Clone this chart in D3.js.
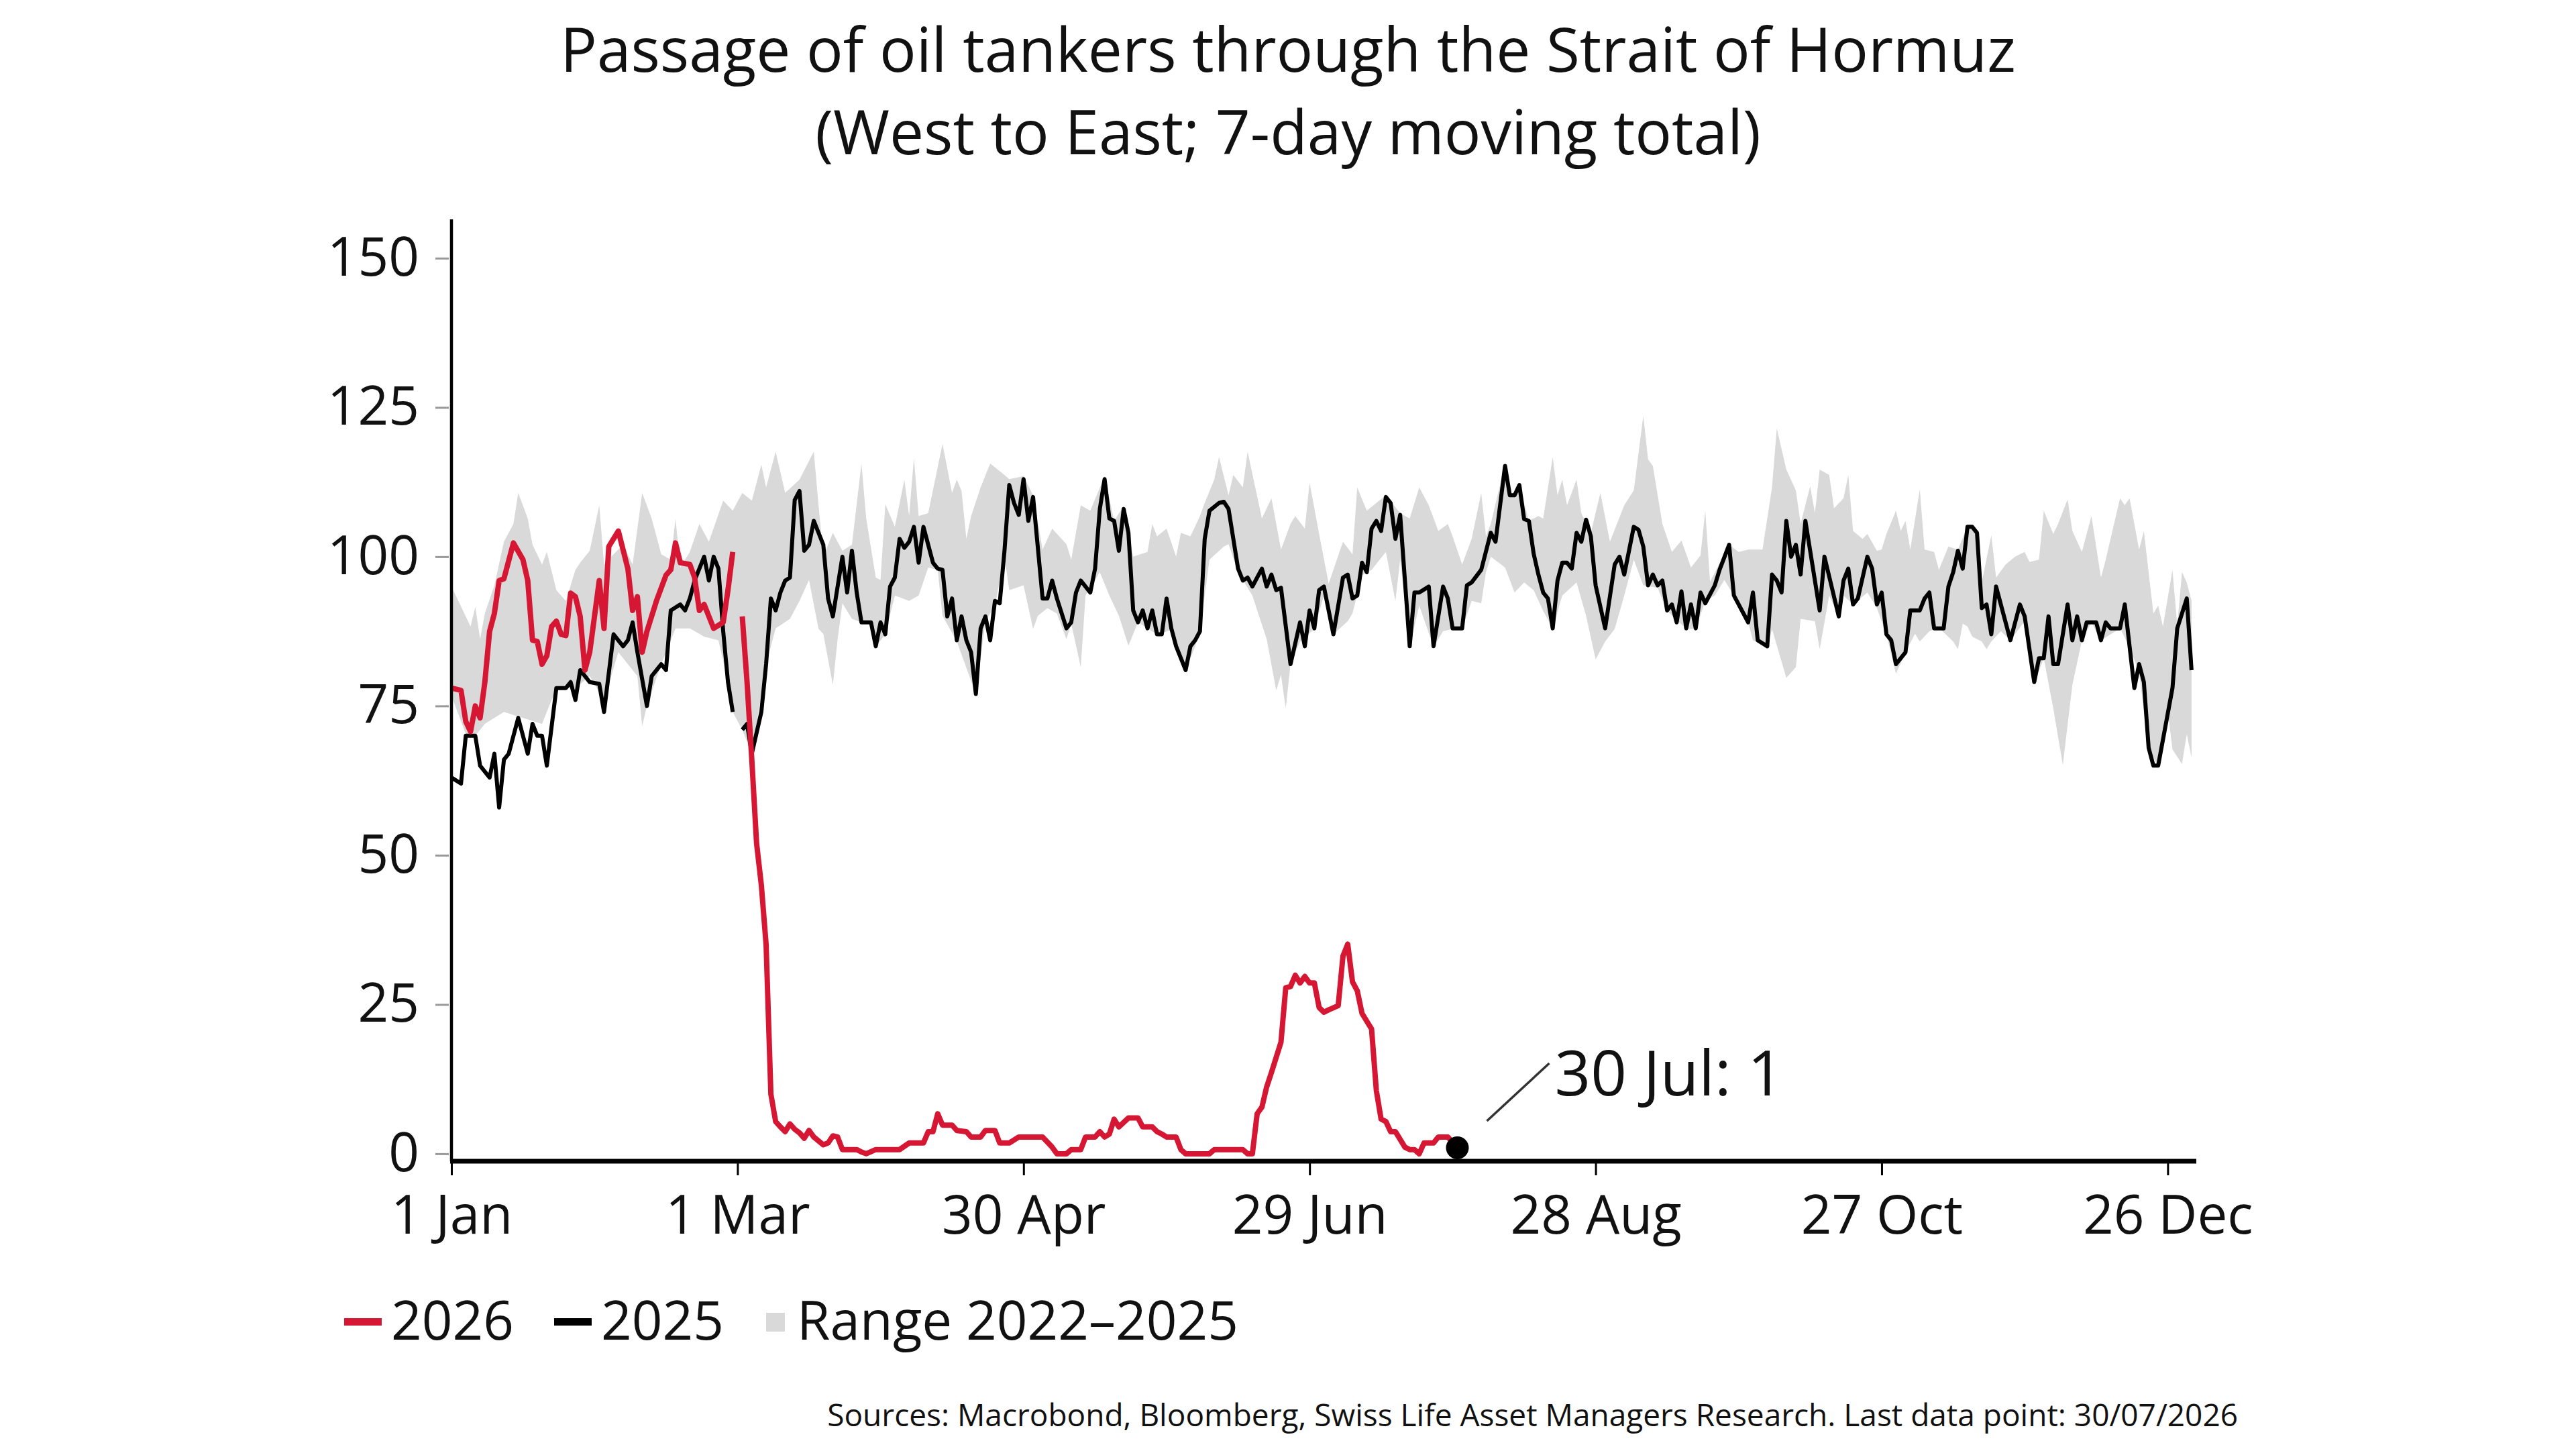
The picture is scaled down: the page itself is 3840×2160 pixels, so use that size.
<!DOCTYPE html>
<html lang="en">
<head>
<meta charset="UTF-8">
<title>Passage of oil tankers through the Strait of Hormuz</title>
<script src="https://cdn.jsdelivr.net/npm/d3@7"></script>
<style>
  html, body { margin: 0; padding: 0; background: #fff; }
  svg text { font-family: "Open Sans", "Noto Sans", sans-serif; fill: #111; }
</style>
</head>
<body>
<svg id="chart" width="3840" height="2160"></svg>
<script>
// x values are day-of-year positions on a leap-year calendar
const tickDays = [0, 60, 120, 180, 240, 300, 360];
const tickLabels = ["1 Jan", "1 Mar", "30 Apr", "29 Jun", "28 Aug", "27 Oct", "26 Dec"];
const yTicks = [0, 25, 50, 75, 100, 125, 150];

const lastPoint = { day: 211, value: 1, label: "30 Jul: 1" };

const series2026 = [
  [0,78],[2,77.6],[3,72.4],[4,70.7],[5,75],[6,73],[7,79],[8,87.5],[9,90.5],[10,96],[11,96.3],[13,102.3],
  [15,99.5],[16,96],[17,86],[18,85.8],[19,82],[20,83.4],[21,88.3],[22,89.2],[23,87],[24,86.8],[25,93.9],
  [26,93.3],[27,90],[28,81],[29,84],[31,96],[32,88],[33,101.7],[35,104.3],[37,98],[38,91],[39,93.3],
  [40,84],[41,87.5],[43,92.6],[45,96.9],[46,97.8],[47,102.3],[48,99],[50,98.7],[51,96.5],[52,91],[53,92],
  [54,90],[55,88],[57,89],[58,94.4],[59,100.8],[60,null],[61,90],[62,79],[63,66],[64,52],[65,45],[66,35],
  [67,10],[68,5.4],[69,4.5],[70,3.7],[71,5],[72,4.1],[73,3.5],[74,2.6],[75,3.9],[76,2.8],[78,1.5],
  [79,1.8],[80,3],[81,2.8],[82,0.7],[85,0.7],[86,0.3],[87,0],[89,0.7],[94,0.7],[96,1.8],[99,1.8],[100,3.7],
  [101,3.7],[102,6.7],[103,4.8],[105,4.8],[106,3.9],[108,3.7],[109,2.8],[111,2.8],[112,3.9],[114,3.9],
  [115,1.8],[117,1.8],[119,2.8],[124,2.8],[126,1.1],[127,0],[129,0],[130,0.7],[132,0.7],[133,2.8],[135,2.8],
  [136,3.7],[137,2.8],[138,3.3],[139,5.8],[140,4.5],[142,6],[144,6],[145,4.5],[147,4.5],[148,3.7],[149,3.3],
  [150,2.8],[152,2.8],[153,0.7],[154,0],[159,0],[160,0.7],[166,0.7],[167,0],[168,0],[169,6.7],[170,7.8],
  [171,11.2],[172,13.6],[174,18.7],[175,27.8],[176,28],[177,29.9],[178,28.6],[179,29.7],[180,28.6],
  [181,28.6],[182,24.5],[183,23.7],[184,24.1],[186,24.8],[187,33.1],[188,35.1],[189,28.8],[190,27.3],
  [191,23.5],[193,20.9],[194,10.6],[195,5.8],[196,5.4],[197,3.7],[198,3.7],[200,1.1],[201,0.7],[202,0.7],
  [203,0],[204,1.8],[206,1.8],[207,2.8],[209,2.8],[211,1]
];

const series2025 = [
  [0,63],[2,62],[3,70],[4,70],[5,70],[6,65],[8,63],[9,67],[10,58],[11,66],[12,67],[14,73],[16,67],[17,72],
  [18,70],[19,70],[20,65],[22,78],[24,78],[25,79],[26,76],[27,81],[29,79],[31,78.7],[32,74],[34,87],[36,85],
  [37,86],[38,89],[39,84],[41,75],[42,80],[44,82],[45,81],[46,91],[48,92],[49,91],[50,93],[51,96],[53,100],
  [54,96],[55,100],[56,98],[57,87.5],[58,79],[59,74],[60,null],[61,71],[62,72],[63,67],[65,74],[66,82],
  [67,93],[68,91],[69,94],[70,96],[71,96.5],[72,109.5],[73,111],[74,101],[75,102],[76,106],[77,104],
  [78,102],[79,93],[80,90],[82,100],[83,94],[84,101],[85,94],[86,89],[88,89],[89,85],[90,89],[91,87],
  [92,95],[93,96.5],[94,103],[95,101.5],[96,102.5],[97,105],[98,99],[99,105],[101,99],[102,98],[103,97.8],
  [104,90],[105,93],[106,86],[107,90],[108,86],[109,84],[110,77],[111,88],[112,90],[113,86],[114,92.6],
  [115,92.2],[116,101],[117,112],[118,109],[119,107],[120,113],[121,106],[122,110],[124,93],[125,93],
  [126,96],[127,93],[129,88],[130,89],[131,94],[132,96],[134,94],[135,98],[136,108],[137,113],[138,106.4],
  [139,106],[140,101],[141,108],[142,104],[143,91],[144,89],[145,91],[146,88],[147,91],[148,87],[149,87],
  [150,93],[151,88],[152,85],[153,83],[154,81],[155,85],[156,86],[157,87.5],[158,103],[159,107.7],[161,109],
  [162,109.2],[163,108],[165,98],[166,96],[167,96.5],[168,95],[170,98],[171,95],[172,97],[173,94.4],
  [174,94.8],[176,82],[178,89],[179,85],[180,91],[181,88],[182,94.4],[183,95],[185,87],[187,96.5],[188,97],
  [189,93],[190,93.5],[191,99],[192,97.4],[193,104.7],[194,106],[195,104.3],[196,110],[197,109],[198,103],
  [199,107],[201,85],[202,94],[203,94],[205,95],[206,85],[208,95],[209,93],[210,88],[212,88],[213,95.2],
  [214,95.7],[216,97.8],[218,104],[219,102.5],[221,115.2],[222,110.3],[223,110.3],[224,112],[225,106.3],
  [226,106],[227,100.5],[228,97],[229,94],[230,93],[231,88],[232,96],[233,99],[234,99],[235,98],[236,104],
  [237,102.5],[238,106.2],[239,103.4],[240,95.2],[242,88],[244,98.7],[245,100],[246,97],[248,105],
  [249,104.5],[250,101.7],[251,95.2],[252,97],[253,95.2],[254,96],[255,91],[256,92],[257,89],[258,94.2],
  [259,88],[260,92],[261,88],[262,94],[263,92.2],[265,95.2],[266,97.8],[268,102],[269,93.5],[272,89],
  [273,94],[274,86],[276,85],[277,97],[278,96],[279,94],[280,106],[281,100],[282,102],[283,97],[284,106],
  [287,91],[288,100],[291,90],[292,96],[293,98],[294,92],[295,93],[297,100],[298,98],[299,92],[300,94],
  [301,87],[302,86],[303,82],[305,84],[306,91],[308,91],[309,93],[310,94],[311,88],[313,88],[314,95],
  [315,97.4],[316,101],[317,98],[318,105],[319,105],[320,104],[321,91.4],[322,92],[323,87],[324,95],
  [327,86],[329,92],[330,90],[332,79],[333,83],[334,83],[335,90],[336,82],[337,82],[339,92],[340,86],
  [341,90],[342,86],[343,89],[344,89],[345,89],[346,86],[347,89],[348,88],[350,88],[351,92],[353,78],
  [354,82],[355,79],[356,68],[357,65],[358,65],[361,78],[362,88],[364,93],[365,81]
];

// upper and lower edge of the 2022-2025 range
const rangeHigh = [
  [0,95],[4,88.3],[5,91.6],[6,86.2],[7,90.5],[9,95.2],[11,102.5],[13,105.5],[14,110.7],[16,106.4],[17,102],
  [19,98.7],[20,100.8],[22,94.4],[24,92.6],[26,97.8],[27,99],[29,101],[31,108.6],[32,98.7],[34,100.4],
  [36,102],[38,98.7],[40,110.7],[42,106.4],[44,100.4],[46,99.5],[47,106.4],[48,98.2],[50,100.8],[52,105.5],
  [54,102.5],[57,109.4],[59,107.7],[61,110.7],[63,109.4],[65,115.4],[66,111.6],[68,117.6],[70,110.7],
  [73,112.9],[76,117.6],[77,108.6],[78,100],[80,104],[82,101],[84,102],[86,115.6],[87,106.4],[89,96.5],
  [90,96.1],[91,108.8],[93,105],[95,112.9],[96,106.8],[97,116.5],[98,106.8],[100,107.3],[103,118.9],
  [105,110.7],[106,112.9],[107,111],[108,103],[109,106.8],[111,111.6],[113,115.6],[116,113.7],[117,113],
  [120,113.5],[122,110.3],[124,101.2],[126,104.7],[129,102.1],[130,99.5],[132,108.6],[134,107.7],
  [137,113.5],[139,106],[141,108.5],[142,104.3],[143,100],[146,100.8],[147,105.5],[148,103.4],[150,104.7],
  [152,100],[153,104],[155,103.4],[157,106.8],[158,109],[160,112.9],[161,116.7],[163,110.3],[164,113.7],
  [166,111.6],[167,117.6],[170,106.4],[172,109.8],[174,101.2],[176,105.5],[177,106.8],[179,104.7],
  [180,112.4],[182,103.8],[184,95.5],[187,102.5],[189,100.4],[190,111.6],[192,107.7],[196,110.3],
  [199,107.3],[201,106.4],[203,111.6],[205,108.6],[207,104.3],[209,105.5],[210,103.4],[212,98.7],
  [214,103],[216,110.7],[217,103.4],[218,105.5],[221,115.5],[222,110],[224,112],[226,106],[228,106.8],
  [229,106.4],[231,116.7],[232,110.3],[233,112.9],[234,108.6],[236,112.9],[237,107.3],[239,104],
  [241,110.7],[243,102.5],[246,108.6],[248,111.1],[250,123.6],[251,116.3],[252,115.2],[254,105.5],
  [256,100.8],[258,102.7],[260,98.2],[262,100.2],[263,107.7],[264,95.8],[268,102],[270,100.8],[272,101.2],
  [275,101.2],[277,111.6],[278,121.5],[280,114.6],[282,111.1],[283,105.5],[285,111.8],[286,107.3],
  [287,114.6],[289,113.7],[290,108.1],[292,109.8],[293,113.7],[294,104.3],[296,103],[297,103.8],[299,101],
  [300,101.2],[301,103.8],[303,107.7],[304,104.3],[305,106],[306,101.2],[308,111.3],[309,101.2],
  [311,100.8],[312,97.8],[314,101.7],[316,101.2],[318,105.1],[320,104.3],[321,95.7],[323,103.6],
  [324,96.5],[326,98.7],[328,100],[330,100.8],[331,99.1],[333,99.5],[334,107.7],[336,103.8],[337,105.5],
  [339,109.6],[340,104.3],[342,100.8],[344,106.8],[346,96.5],[347,99.5],[350,109.8],[351,108.6],
  [352,109.8],[354,101.2],[355,104.3],[357,90.5],[358,91.8],[359,88.3],[361,97.8],[362,88.5],[363,97.4],
  [364,95.7],[365,92.6]
];

const rangeLow = [
  [0,76.7],[3,70.3],[5,70],[7,72],[11,74],[15,73],[19,72],[22,78],[26,78],[29,80],[32,76],[35,84],[39,80],
  [40,71.6],[41,75],[44,82],[47,88],[50,88],[53,86.6],[56,86],[58,79],[59,74],[61,71],[63,67],[66,82],
  [68,88],[71,89.6],[73,92.6],[75,96.1],[77,87.9],[78,87.1],[80,78.5],[81,86.2],[82,92.2],[84,89.6],
  [86,89],[88,88.8],[89,84.9],[91,87],[93,93.5],[96,92.6],[98,93.5],[100,98.2],[102,97.8],[103,90.1],
  [106,85.8],[110,77],[112,89.2],[114,91.8],[116,100],[117,94.4],[120,95.2],[122,87.9],[123,90.1],
  [125,91.4],[127,90.5],[129,86.2],[130,88.8],[132,81.5],[133,93.5],[136,97.4],[138,93.5],[140,90.1],
  [142,85.1],[144,89],[146,88],[148,87],[151,87.7],[154,81],[156,85],[157,87.5],[159,99.5],[162,101.7],
  [163,102.1],[165,97.4],[168,93.5],[171,86.2],[173,77.6],[174,80.2],[175,74.6],[176,82],[178,85.8],
  [181,87.9],[183,93.5],[185,87],[188,89.2],[189,90.5],[191,96.9],[193,97.8],[196,100.8],[198,92.6],
  [199,99.5],[201,84.9],[203,91.8],[206,84.9],[208,87.5],[210,87.9],[212,87.9],[214,92.6],[216,92.2],
  [217,97.4],[218,100],[221,98.2],[223,94],[225,95.7],[227,94.4],[229,90.9],[231,88],[233,93.5],
  [236,95.7],[238,90.1],[240,82.8],[242,85.8],[244,87.9],[246,93.5],[248,99.5],[250,95.2],[253,94.8],
  [255,90.9],[259,87.9],[261,87.9],[263,92.6],[265,93.5],[267,96.1],[269,93.5],[272,89],[273,86],
  [276,84.9],[277,87.9],[280,79.7],[282,81.5],[283,89.6],[286,89.2],[287,84.5],[289,93.5],[291,90],
  [292,93.5],[294,92],[297,94],[299,91.4],[301,87],[303,80.4],[305,84],[307,87.1],[308,85.8],[310,87.5],
  [312,88.1],[315,85.8],[316,84.5],[317,88.8],[318,88.3],[319,86.6],[321,85.8],[322,84.5],[323,85.8],
  [325,87.5],[327,86],[330,89.2],[332,78.9],[334,83],[336,74.6],[338,65.1],[340,78.5],[342,86],[344,89],
  [346,86],[350,88],[352,84.9],[354,80.6],[356,67.7],[358,64.9],[360,74.2],[361,67.7],[363,65.3],
  [364,70.3],[365,66.4]
];

const title = ["Passage of oil tankers through the Strait of Hormuz", "(West to East; 7-day moving total)"];
const legendItems = [
  { label: "2026", kind: "line", color: "#d51733" },
  { label: "2025", kind: "line", color: "#000" },
  { label: "Range 2022\u20132025", kind: "box", color: "#d9d9d9" }
];
const source = "Sources: Macrobond, Bloomberg, Swiss Life Asset Managers Research. Last data point: 30/07/2026";

const svg = d3.select("#chart");
svg.append("rect").attr("width", 3840).attr("height", 2160).attr("fill", "#fff");

const x = d3.scaleLinear().domain([0, 366]).range([673, 3274]);
const y = d3.scaleLinear().domain([-1.25, 156.5]).range([1731, 327]);

// title
svg.append("g").selectAll("text")
  .data(title)
  .join("text")
  .attr("x", 1920)
  .attr("y", (d, i) => 107 + i * 123)
  .attr("text-anchor", "middle")
  .attr("font-size", 91)
  .text(d => d);

// range band: upper edge forward, lower edge back
const edge = d3.line().x(d => x(d[0])).y(d => y(d[1]));
svg.append("path")
  .attr("d", edge(rangeHigh.concat(rangeLow.slice().reverse())) + "Z")
  .attr("fill", "#d9d9d9");

const line = d3.line()
  .defined(d => d[1] != null)
  .x(d => x(d[0]))
  .y(d => y(d[1]));

svg.append("path")
  .datum(series2025)
  .attr("d", line)
  .attr("fill", "none")
  .attr("stroke", "#000")
  .attr("stroke-width", 6)
  .attr("stroke-linejoin", "round");

svg.append("path")
  .datum(series2026)
  .attr("d", line)
  .attr("fill", "none")
  .attr("stroke", "#d51733")
  .attr("stroke-width", 8)
  .attr("stroke-linejoin", "round");

// y axis
const yAxis = svg.append("g")
  .attr("transform", `translate(${x(0) - 4},0)`)
  .call(d3.axisLeft(y).tickValues(yTicks).tickSize(20).tickPadding(24));
yAxis.select(".domain").remove();
yAxis.selectAll(".tick line").attr("stroke", "#999").attr("stroke-width", 3);
yAxis.selectAll(".tick text").attr("font-size", 80).attr("font-family", null);

svg.append("line")
  .attr("x1", x(0)).attr("x2", x(0))
  .attr("y1", y(156.5)).attr("y2", y(-1.25))
  .attr("stroke", "#000").attr("stroke-width", 4.5);

// x axis
const xAxis = svg.append("g")
  .attr("transform", `translate(0,${y(-1.25)})`)
  .call(d3.axisBottom(x).tickValues(tickDays).tickFormat((d, i) => tickLabels[i]).tickSize(21).tickPadding(30));
xAxis.select(".domain").remove();
xAxis.selectAll(".tick line").attr("stroke", "#000").attr("stroke-width", 3);
xAxis.selectAll(".tick text").attr("font-size", 80).attr("font-family", null);

svg.append("line")
  .attr("x1", x(0) - 2).attr("x2", x(366))
  .attr("y1", y(-1.25)).attr("y2", y(-1.25))
  .attr("stroke", "#000").attr("stroke-width", 7);

// last data point
const px = x(lastPoint.day), py = y(lastPoint.value);
svg.append("circle").attr("cx", px).attr("cy", py).attr("r", 17).attr("fill", "#000");
svg.append("line")
  .attr("x1", px + 44).attr("y1", py - 40)
  .attr("x2", px + 137).attr("y2", py - 126)
  .attr("stroke", "#333").attr("stroke-width", 3.5);
svg.append("text")
  .attr("x", px + 145).attr("y", py - 78)
  .attr("font-size", 94)
  .text(lastPoint.label);

// legend
const legendX = [513, 826, 1142];
const legend = svg.append("g").selectAll("g")
  .data(legendItems)
  .join("g")
  .attr("transform", (d, i) => `translate(${legendX[i]},1997)`);
legend.filter(d => d.kind === "line").append("rect")
  .attr("x", 0).attr("y", -32).attr("width", 56).attr("height", 11)
  .attr("fill", d => d.color);
legend.filter(d => d.kind === "box").append("rect")
  .attr("x", 0).attr("y", -40).attr("width", 28).attr("height", 28)
  .attr("fill", d => d.color);
legend.append("text")
  .attr("x", d => d.kind === "line" ? 70 : 46)
  .attr("font-size", 80)
  .text(d => d.label);

// source
svg.append("text")
  .attr("x", 3336).attr("y", 2126)
  .attr("text-anchor", "end")
  .attr("font-size", 46)
  .text(source);
</script>
</body>
</html>
